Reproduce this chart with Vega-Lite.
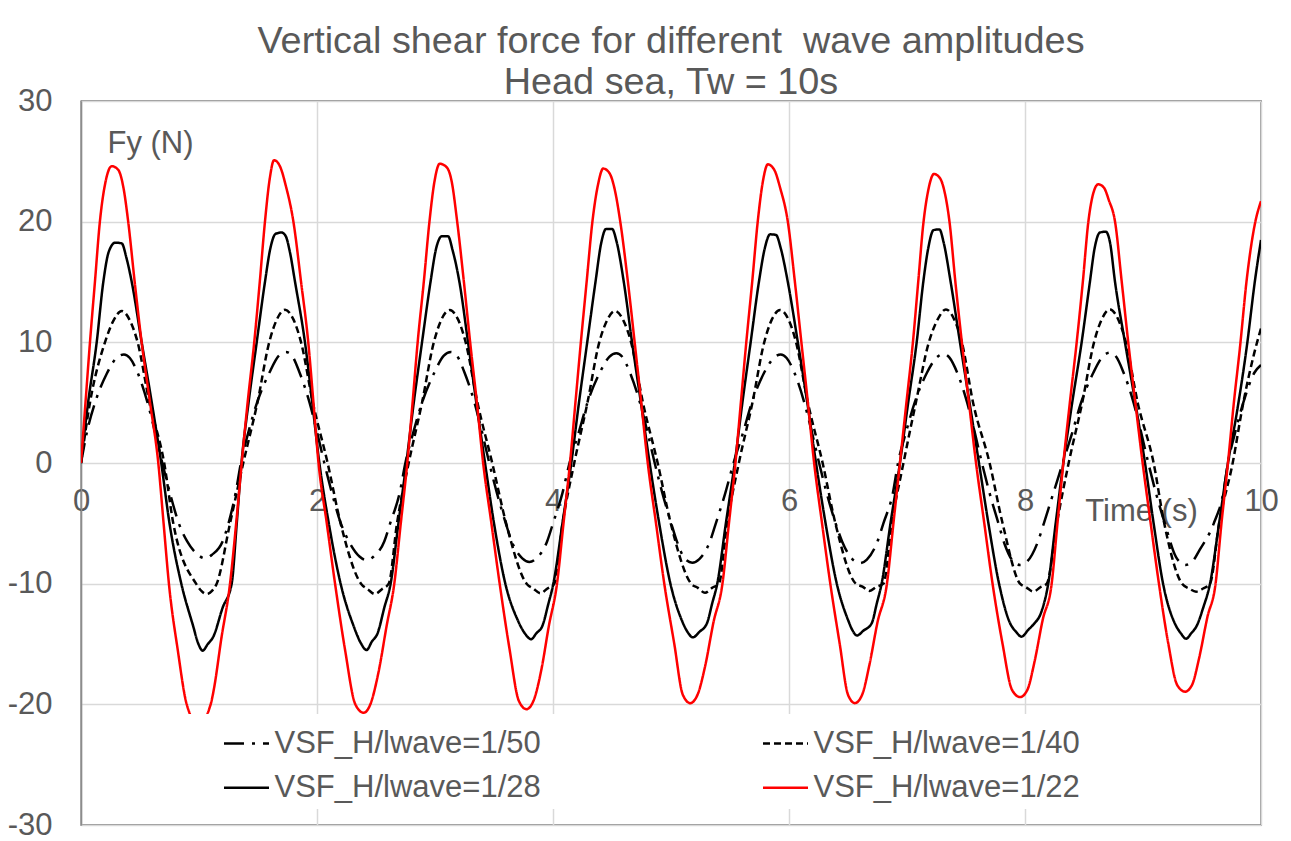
{
  "$schema": "https://vega.github.io/schema/vega-lite/v6.json",
  "width": 1180,
  "height": 724,
  "autosize": {"type": "none"},
  "padding": {"left": 81, "top": 101, "right": 30, "bottom": 16},
  "background": "white",
  "config": {
    "font": "Liberation Sans",
    "view": {"stroke": "#262626", "strokeWidth": 1.3}
  },
  "title": {
    "text": ["Vertical shear force for different \u00a0wave amplitudes", "Head sea, Tw = 10s"],
    "anchor": "middle",
    "frame": "group",
    "font": "Liberation Sans",
    "fontSize": 37.8,
    "fontWeight": "normal",
    "color": "#595959",
    "lineHeight": 40.5,
    "baseline": "alphabetic",
    "offset": 0,
    "dy": 46.5
  },
  "data": {
    "values": [
      {"t":0,"fy":0,"s":"VSF_H/lwave=1/50"},{"t":0.048,"fy":2.46,"s":"VSF_H/lwave=1/50"},{"t":0.119,"fy":5,"s":"VSF_H/lwave=1/50"},{"t":0.218,"fy":7.4,"s":"VSF_H/lwave=1/50"},{"t":0.3,"fy":8.7,"s":"VSF_H/lwave=1/50"},{"t":0.364,"fy":9.0,"s":"VSF_H/lwave=1/50"},{"t":0.414,"fy":8.7,"s":"VSF_H/lwave=1/50"},{"t":0.479,"fy":7.5,"s":"VSF_H/lwave=1/50"},{"t":0.564,"fy":5,"s":"VSF_H/lwave=1/50"},{"t":0.629,"fy":2.5,"s":"VSF_H/lwave=1/50"},{"t":0.689,"fy":0,"s":"VSF_H/lwave=1/50"},{"t":0.754,"fy":-2.5,"s":"VSF_H/lwave=1/50"},{"t":0.829,"fy":-5,"s":"VSF_H/lwave=1/50"},
      {"t":0.9,"fy":-6.5,"s":"VSF_H/lwave=1/50"},{"t":0.99,"fy":-7.6,"s":"VSF_H/lwave=1/50"},{"t":1.05,"fy":-7.9,"s":"VSF_H/lwave=1/50"},{"t":1.11,"fy":-7.6,"s":"VSF_H/lwave=1/50"},{"t":1.2,"fy":-6.5,"s":"VSF_H/lwave=1/50"},{"t":1.25,"fy":-5,"s":"VSF_H/lwave=1/50"},{"t":1.31,"fy":-2.5,"s":"VSF_H/lwave=1/50"},{"t":1.355,"fy":0,"s":"VSF_H/lwave=1/50"},
      {"t":1.417,"fy":2.5,"s":"VSF_H/lwave=1/50"},{"t":1.492,"fy":5,"s":"VSF_H/lwave=1/50"},{"t":1.597,"fy":7.5,"s":"VSF_H/lwave=1/50"},{"t":1.677,"fy":8.9,"s":"VSF_H/lwave=1/50"},{"t":1.737,"fy":9.2,"s":"VSF_H/lwave=1/50"},{"t":1.787,"fy":8.9,"s":"VSF_H/lwave=1/50"},{"t":1.852,"fy":7.5,"s":"VSF_H/lwave=1/50"},{"t":1.937,"fy":5,"s":"VSF_H/lwave=1/50"},{"t":2.002,"fy":2.5,"s":"VSF_H/lwave=1/50"},{"t":2.062,"fy":0,"s":"VSF_H/lwave=1/50"},{"t":2.127,"fy":-2.5,"s":"VSF_H/lwave=1/50"},{"t":2.202,"fy":-5,"s":"VSF_H/lwave=1/50"},
      {"t":2.27,"fy":-6.5,"s":"VSF_H/lwave=1/50"},{"t":2.36,"fy":-7.75,"s":"VSF_H/lwave=1/50"},{"t":2.42,"fy":-8.05,"s":"VSF_H/lwave=1/50"},{"t":2.48,"fy":-7.75,"s":"VSF_H/lwave=1/50"},{"t":2.57,"fy":-6.5,"s":"VSF_H/lwave=1/50"},{"t":2.62,"fy":-5,"s":"VSF_H/lwave=1/50"},{"t":2.7,"fy":-2.5,"s":"VSF_H/lwave=1/50"},{"t":2.749,"fy":0,"s":"VSF_H/lwave=1/50"},
      {"t":2.815,"fy":2.5,"s":"VSF_H/lwave=1/50"},{"t":2.89,"fy":5,"s":"VSF_H/lwave=1/50"},{"t":2.995,"fy":7.5,"s":"VSF_H/lwave=1/50"},{"t":3.075,"fy":8.9,"s":"VSF_H/lwave=1/50"},{"t":3.135,"fy":9.2,"s":"VSF_H/lwave=1/50"},{"t":3.185,"fy":8.9,"s":"VSF_H/lwave=1/50"},{"t":3.25,"fy":7.5,"s":"VSF_H/lwave=1/50"},{"t":3.335,"fy":5,"s":"VSF_H/lwave=1/50"},{"t":3.4,"fy":2.5,"s":"VSF_H/lwave=1/50"},{"t":3.46,"fy":0,"s":"VSF_H/lwave=1/50"},{"t":3.525,"fy":-2.5,"s":"VSF_H/lwave=1/50"},{"t":3.6,"fy":-5,"s":"VSF_H/lwave=1/50"},
      {"t":3.65,"fy":-6.5,"s":"VSF_H/lwave=1/50"},{"t":3.74,"fy":-7.9,"s":"VSF_H/lwave=1/50"},{"t":3.8,"fy":-8.2,"s":"VSF_H/lwave=1/50"},{"t":3.86,"fy":-7.9,"s":"VSF_H/lwave=1/50"},{"t":3.95,"fy":-6.5,"s":"VSF_H/lwave=1/50"},{"t":4.0,"fy":-5,"s":"VSF_H/lwave=1/50"},{"t":4.08,"fy":-2.5,"s":"VSF_H/lwave=1/50"},{"t":4.14,"fy":0,"s":"VSF_H/lwave=1/50"},
      {"t":4.217,"fy":2.5,"s":"VSF_H/lwave=1/50"},{"t":4.292,"fy":5,"s":"VSF_H/lwave=1/50"},{"t":4.397,"fy":7.5,"s":"VSF_H/lwave=1/50"},{"t":4.477,"fy":8.8,"s":"VSF_H/lwave=1/50"},{"t":4.537,"fy":9.09,"s":"VSF_H/lwave=1/50"},{"t":4.587,"fy":8.8,"s":"VSF_H/lwave=1/50"},{"t":4.652,"fy":7.5,"s":"VSF_H/lwave=1/50"},{"t":4.737,"fy":5,"s":"VSF_H/lwave=1/50"},{"t":4.802,"fy":2.5,"s":"VSF_H/lwave=1/50"},{"t":4.862,"fy":0,"s":"VSF_H/lwave=1/50"},{"t":4.927,"fy":-2.5,"s":"VSF_H/lwave=1/50"},{"t":5.002,"fy":-5,"s":"VSF_H/lwave=1/50"},
      {"t":5.05,"fy":-6.5,"s":"VSF_H/lwave=1/50"},{"t":5.12,"fy":-7.96,"s":"VSF_H/lwave=1/50"},{"t":5.18,"fy":-8.26,"s":"VSF_H/lwave=1/50"},{"t":5.24,"fy":-7.96,"s":"VSF_H/lwave=1/50"},{"t":5.33,"fy":-6.5,"s":"VSF_H/lwave=1/50"},{"t":5.38,"fy":-5,"s":"VSF_H/lwave=1/50"},{"t":5.46,"fy":-2.5,"s":"VSF_H/lwave=1/50"},{"t":5.53,"fy":0,"s":"VSF_H/lwave=1/50"},
      {"t":5.61,"fy":2.5,"s":"VSF_H/lwave=1/50"},{"t":5.685,"fy":5,"s":"VSF_H/lwave=1/50"},{"t":5.79,"fy":7.5,"s":"VSF_H/lwave=1/50"},{"t":5.87,"fy":8.7,"s":"VSF_H/lwave=1/50"},{"t":5.93,"fy":9.0,"s":"VSF_H/lwave=1/50"},{"t":5.98,"fy":8.7,"s":"VSF_H/lwave=1/50"},{"t":6.045,"fy":7.5,"s":"VSF_H/lwave=1/50"},{"t":6.13,"fy":5,"s":"VSF_H/lwave=1/50"},{"t":6.195,"fy":2.5,"s":"VSF_H/lwave=1/50"},{"t":6.255,"fy":0,"s":"VSF_H/lwave=1/50"},{"t":6.32,"fy":-2.5,"s":"VSF_H/lwave=1/50"},{"t":6.395,"fy":-5,"s":"VSF_H/lwave=1/50"},
      {"t":6.45,"fy":-6.5,"s":"VSF_H/lwave=1/50"},{"t":6.54,"fy":-8.0,"s":"VSF_H/lwave=1/50"},{"t":6.6,"fy":-8.3,"s":"VSF_H/lwave=1/50"},{"t":6.66,"fy":-8.0,"s":"VSF_H/lwave=1/50"},{"t":6.75,"fy":-6.5,"s":"VSF_H/lwave=1/50"},{"t":6.8,"fy":-5,"s":"VSF_H/lwave=1/50"},{"t":6.88,"fy":-2.5,"s":"VSF_H/lwave=1/50"},{"t":6.924,"fy":0,"s":"VSF_H/lwave=1/50"},
      {"t":6.99,"fy":2.5,"s":"VSF_H/lwave=1/50"},{"t":7.065,"fy":5,"s":"VSF_H/lwave=1/50"},{"t":7.17,"fy":7.5,"s":"VSF_H/lwave=1/50"},{"t":7.25,"fy":8.73,"s":"VSF_H/lwave=1/50"},{"t":7.31,"fy":9.03,"s":"VSF_H/lwave=1/50"},{"t":7.36,"fy":8.73,"s":"VSF_H/lwave=1/50"},{"t":7.425,"fy":7.5,"s":"VSF_H/lwave=1/50"},{"t":7.51,"fy":5,"s":"VSF_H/lwave=1/50"},{"t":7.575,"fy":2.5,"s":"VSF_H/lwave=1/50"},{"t":7.635,"fy":0,"s":"VSF_H/lwave=1/50"},{"t":7.7,"fy":-2.5,"s":"VSF_H/lwave=1/50"},{"t":7.775,"fy":-5,"s":"VSF_H/lwave=1/50"},
      {"t":7.83,"fy":-6.8,"s":"VSF_H/lwave=1/50"},{"t":7.9,"fy":-8.15,"s":"VSF_H/lwave=1/50"},{"t":7.96,"fy":-8.45,"s":"VSF_H/lwave=1/50"},{"t":8.02,"fy":-8.15,"s":"VSF_H/lwave=1/50"},{"t":8.11,"fy":-6.5,"s":"VSF_H/lwave=1/50"},{"t":8.16,"fy":-5,"s":"VSF_H/lwave=1/50"},{"t":8.24,"fy":-2.5,"s":"VSF_H/lwave=1/50"},{"t":8.32,"fy":0,"s":"VSF_H/lwave=1/50"},
      {"t":8.4,"fy":2.5,"s":"VSF_H/lwave=1/50"},{"t":8.475,"fy":5,"s":"VSF_H/lwave=1/50"},{"t":8.58,"fy":7.5,"s":"VSF_H/lwave=1/50"},{"t":8.66,"fy":8.84,"s":"VSF_H/lwave=1/50"},{"t":8.72,"fy":9.14,"s":"VSF_H/lwave=1/50"},{"t":8.77,"fy":8.84,"s":"VSF_H/lwave=1/50"},{"t":8.835,"fy":7.5,"s":"VSF_H/lwave=1/50"},{"t":8.92,"fy":5,"s":"VSF_H/lwave=1/50"},{"t":8.985,"fy":2.5,"s":"VSF_H/lwave=1/50"},{"t":9.045,"fy":0,"s":"VSF_H/lwave=1/50"},{"t":9.11,"fy":-2.5,"s":"VSF_H/lwave=1/50"},{"t":9.185,"fy":-5,"s":"VSF_H/lwave=1/50"},
      {"t":9.28,"fy":-7.8,"s":"VSF_H/lwave=1/50"},{"t":9.36,"fy":-8.45,"s":"VSF_H/lwave=1/50"},{"t":9.42,"fy":-8.15,"s":"VSF_H/lwave=1/50"},{"t":9.48,"fy":-7.2,"s":"VSF_H/lwave=1/50"},{"t":9.6,"fy":-5,"s":"VSF_H/lwave=1/50"},{"t":9.68,"fy":-2.5,"s":"VSF_H/lwave=1/50"},{"t":9.72,"fy":0,"s":"VSF_H/lwave=1/50"},
      {"t":9.78,"fy":2.5,"s":"VSF_H/lwave=1/50"},{"t":9.85,"fy":5,"s":"VSF_H/lwave=1/50"},{"t":9.945,"fy":7.5,"s":"VSF_H/lwave=1/50"},{"t":10,"fy":8.12,"s":"VSF_H/lwave=1/50"},

      {"t":0,"fy":0,"s":"VSF_H/lwave=1/40"},{"t":0.076,"fy":5,"s":"VSF_H/lwave=1/40"},{"t":0.203,"fy":10,"s":"VSF_H/lwave=1/40"},{"t":0.275,"fy":11.8,"s":"VSF_H/lwave=1/40"},{"t":0.345,"fy":12.6,"s":"VSF_H/lwave=1/40"},{"t":0.415,"fy":11.8,"s":"VSF_H/lwave=1/40"},{"t":0.48,"fy":10,"s":"VSF_H/lwave=1/40"},{"t":0.58,"fy":5,"s":"VSF_H/lwave=1/40"},{"t":0.705,"fy":0,"s":"VSF_H/lwave=1/40"},
      {"t":0.782,"fy":-5,"s":"VSF_H/lwave=1/40"},{"t":0.975,"fy":-10,"s":"VSF_H/lwave=1/40"},{"t":1.02,"fy":-10.6,"s":"VSF_H/lwave=1/40"},{"t":1.065,"fy":-10.86,"s":"VSF_H/lwave=1/40"},{"t":1.11,"fy":-10.6,"s":"VSF_H/lwave=1/40"},{"t":1.15,"fy":-10,"s":"VSF_H/lwave=1/40"},{"t":1.263,"fy":-5,"s":"VSF_H/lwave=1/40"},{"t":1.375,"fy":0,"s":"VSF_H/lwave=1/40"},
      {"t":1.495,"fy":5,"s":"VSF_H/lwave=1/40"},{"t":1.595,"fy":10,"s":"VSF_H/lwave=1/40"},{"t":1.66,"fy":11.9,"s":"VSF_H/lwave=1/40"},{"t":1.73,"fy":12.7,"s":"VSF_H/lwave=1/40"},{"t":1.8,"fy":11.9,"s":"VSF_H/lwave=1/40"},{"t":1.865,"fy":10,"s":"VSF_H/lwave=1/40"},{"t":1.965,"fy":5,"s":"VSF_H/lwave=1/40"},{"t":2.09,"fy":0,"s":"VSF_H/lwave=1/40"},
      {"t":2.2,"fy":-5,"s":"VSF_H/lwave=1/40"},{"t":2.373,"fy":-10,"s":"VSF_H/lwave=1/40"},{"t":2.43,"fy":-10.46,"s":"VSF_H/lwave=1/40"},{"t":2.49,"fy":-10.86,"s":"VSF_H/lwave=1/40"},{"t":2.55,"fy":-10.46,"s":"VSF_H/lwave=1/40"},{"t":2.608,"fy":-10,"s":"VSF_H/lwave=1/40"},{"t":2.678,"fy":-5,"s":"VSF_H/lwave=1/40"},{"t":2.777,"fy":0,"s":"VSF_H/lwave=1/40"},
      {"t":2.89,"fy":5,"s":"VSF_H/lwave=1/40"},{"t":2.99,"fy":10,"s":"VSF_H/lwave=1/40"},{"t":3.055,"fy":11.9,"s":"VSF_H/lwave=1/40"},{"t":3.125,"fy":12.68,"s":"VSF_H/lwave=1/40"},{"t":3.195,"fy":11.9,"s":"VSF_H/lwave=1/40"},{"t":3.26,"fy":10,"s":"VSF_H/lwave=1/40"},{"t":3.36,"fy":5,"s":"VSF_H/lwave=1/40"},{"t":3.485,"fy":0,"s":"VSF_H/lwave=1/40"},
      {"t":3.603,"fy":-5,"s":"VSF_H/lwave=1/40"},{"t":3.776,"fy":-10,"s":"VSF_H/lwave=1/40"},{"t":3.833,"fy":-10.4,"s":"VSF_H/lwave=1/40"},{"t":3.893,"fy":-10.8,"s":"VSF_H/lwave=1/40"},{"t":3.953,"fy":-10.4,"s":"VSF_H/lwave=1/40"},{"t":4.011,"fy":-10,"s":"VSF_H/lwave=1/40"},{"t":4.081,"fy":-5,"s":"VSF_H/lwave=1/40"},{"t":4.18,"fy":0,"s":"VSF_H/lwave=1/40"},
      {"t":4.292,"fy":5,"s":"VSF_H/lwave=1/40"},{"t":4.392,"fy":10,"s":"VSF_H/lwave=1/40"},{"t":4.457,"fy":11.8,"s":"VSF_H/lwave=1/40"},{"t":4.527,"fy":12.6,"s":"VSF_H/lwave=1/40"},{"t":4.597,"fy":11.8,"s":"VSF_H/lwave=1/40"},{"t":4.662,"fy":10,"s":"VSF_H/lwave=1/40"},{"t":4.762,"fy":5,"s":"VSF_H/lwave=1/40"},{"t":4.887,"fy":0,"s":"VSF_H/lwave=1/40"},
      {"t":4.998,"fy":-5,"s":"VSF_H/lwave=1/40"},{"t":5.171,"fy":-10,"s":"VSF_H/lwave=1/40"},{"t":5.228,"fy":-10.35,"s":"VSF_H/lwave=1/40"},{"t":5.288,"fy":-10.75,"s":"VSF_H/lwave=1/40"},{"t":5.348,"fy":-10.35,"s":"VSF_H/lwave=1/40"},{"t":5.406,"fy":-10,"s":"VSF_H/lwave=1/40"},{"t":5.476,"fy":-5,"s":"VSF_H/lwave=1/40"},{"t":5.575,"fy":0,"s":"VSF_H/lwave=1/40"},
      {"t":5.69,"fy":5,"s":"VSF_H/lwave=1/40"},{"t":5.79,"fy":10,"s":"VSF_H/lwave=1/40"},{"t":5.855,"fy":11.9,"s":"VSF_H/lwave=1/40"},{"t":5.925,"fy":12.68,"s":"VSF_H/lwave=1/40"},{"t":5.995,"fy":11.9,"s":"VSF_H/lwave=1/40"},{"t":6.06,"fy":10,"s":"VSF_H/lwave=1/40"},{"t":6.16,"fy":5,"s":"VSF_H/lwave=1/40"},{"t":6.285,"fy":0,"s":"VSF_H/lwave=1/40"},
      {"t":6.393,"fy":-5,"s":"VSF_H/lwave=1/40"},{"t":6.566,"fy":-10,"s":"VSF_H/lwave=1/40"},{"t":6.623,"fy":-10.25,"s":"VSF_H/lwave=1/40"},{"t":6.683,"fy":-10.6,"s":"VSF_H/lwave=1/40"},{"t":6.743,"fy":-10.25,"s":"VSF_H/lwave=1/40"},{"t":6.801,"fy":-10,"s":"VSF_H/lwave=1/40"},{"t":6.871,"fy":-5,"s":"VSF_H/lwave=1/40"},{"t":6.97,"fy":0,"s":"VSF_H/lwave=1/40"},
      {"t":7.075,"fy":5,"s":"VSF_H/lwave=1/40"},{"t":7.185,"fy":10,"s":"VSF_H/lwave=1/40"},{"t":7.26,"fy":11.9,"s":"VSF_H/lwave=1/40"},{"t":7.33,"fy":12.73,"s":"VSF_H/lwave=1/40"},{"t":7.4,"fy":11.9,"s":"VSF_H/lwave=1/40"},{"t":7.465,"fy":10,"s":"VSF_H/lwave=1/40"},{"t":7.56,"fy":5,"s":"VSF_H/lwave=1/40"},{"t":7.7,"fy":0,"s":"VSF_H/lwave=1/40"},
      {"t":7.81,"fy":-5,"s":"VSF_H/lwave=1/40"},{"t":7.958,"fy":-10,"s":"VSF_H/lwave=1/40"},{"t":8.01,"fy":-10.3,"s":"VSF_H/lwave=1/40"},{"t":8.07,"fy":-10.66,"s":"VSF_H/lwave=1/40"},{"t":8.13,"fy":-10.3,"s":"VSF_H/lwave=1/40"},{"t":8.185,"fy":-10,"s":"VSF_H/lwave=1/40"},{"t":8.27,"fy":-5,"s":"VSF_H/lwave=1/40"},{"t":8.37,"fy":0,"s":"VSF_H/lwave=1/40"},
      {"t":8.485,"fy":5,"s":"VSF_H/lwave=1/40"},{"t":8.585,"fy":10,"s":"VSF_H/lwave=1/40"},{"t":8.65,"fy":11.9,"s":"VSF_H/lwave=1/40"},{"t":8.72,"fy":12.73,"s":"VSF_H/lwave=1/40"},{"t":8.79,"fy":11.9,"s":"VSF_H/lwave=1/40"},{"t":8.855,"fy":10,"s":"VSF_H/lwave=1/40"},{"t":8.955,"fy":5,"s":"VSF_H/lwave=1/40"},{"t":9.09,"fy":0,"s":"VSF_H/lwave=1/40"},
      {"t":9.18,"fy":-5,"s":"VSF_H/lwave=1/40"},{"t":9.33,"fy":-10,"s":"VSF_H/lwave=1/40"},{"t":9.39,"fy":-10.4,"s":"VSF_H/lwave=1/40"},{"t":9.45,"fy":-10.66,"s":"VSF_H/lwave=1/40"},{"t":9.51,"fy":-10.4,"s":"VSF_H/lwave=1/40"},{"t":9.568,"fy":-10,"s":"VSF_H/lwave=1/40"},{"t":9.645,"fy":-5,"s":"VSF_H/lwave=1/40"},{"t":9.76,"fy":0,"s":"VSF_H/lwave=1/40"},
      {"t":9.85,"fy":5,"s":"VSF_H/lwave=1/40"},{"t":9.94,"fy":9,"s":"VSF_H/lwave=1/40"},{"t":10,"fy":11.16,"s":"VSF_H/lwave=1/40"},

      {"t":0,"fy":0,"s":"VSF_H/lwave=1/28"},{"t":0.06,"fy":5,"s":"VSF_H/lwave=1/28"},{"t":0.133,"fy":10,"s":"VSF_H/lwave=1/28"},{"t":0.189,"fy":15,"s":"VSF_H/lwave=1/28"},{"t":0.235,"fy":17.5,"s":"VSF_H/lwave=1/28"},{"t":0.29,"fy":18.26,"s":"VSF_H/lwave=1/28"},{"t":0.345,"fy":18.2,"s":"VSF_H/lwave=1/28"},{"t":0.385,"fy":17,"s":"VSF_H/lwave=1/28"},{"t":0.43,"fy":15,"s":"VSF_H/lwave=1/28"},{"t":0.514,"fy":10,"s":"VSF_H/lwave=1/28"},{"t":0.6,"fy":5,"s":"VSF_H/lwave=1/28"},{"t":0.68,"fy":0,"s":"VSF_H/lwave=1/28"},
      {"t":0.75,"fy":-5,"s":"VSF_H/lwave=1/28"},{"t":0.85,"fy":-10,"s":"VSF_H/lwave=1/28"},{"t":0.95,"fy":-13.5,"s":"VSF_H/lwave=1/28"},{"t":0.995,"fy":-15,"s":"VSF_H/lwave=1/28"},{"t":1.031,"fy":-15.55,"s":"VSF_H/lwave=1/28"},{"t":1.075,"fy":-15,"s":"VSF_H/lwave=1/28"},{"t":1.121,"fy":-14.4,"s":"VSF_H/lwave=1/28"},{"t":1.2,"fy":-12,"s":"VSF_H/lwave=1/28"},{"t":1.277,"fy":-10,"s":"VSF_H/lwave=1/28"},{"t":1.32,"fy":-5,"s":"VSF_H/lwave=1/28"},{"t":1.36,"fy":0,"s":"VSF_H/lwave=1/28"},
      {"t":1.42,"fy":5,"s":"VSF_H/lwave=1/28"},{"t":1.489,"fy":10,"s":"VSF_H/lwave=1/28"},{"t":1.559,"fy":15,"s":"VSF_H/lwave=1/28"},{"t":1.605,"fy":17.8,"s":"VSF_H/lwave=1/28"},{"t":1.65,"fy":19.0,"s":"VSF_H/lwave=1/28"},{"t":1.7,"fy":19.1,"s":"VSF_H/lwave=1/28"},{"t":1.735,"fy":18.8,"s":"VSF_H/lwave=1/28"},{"t":1.77,"fy":17.5,"s":"VSF_H/lwave=1/28"},{"t":1.814,"fy":15,"s":"VSF_H/lwave=1/28"},{"t":1.898,"fy":10,"s":"VSF_H/lwave=1/28"},{"t":1.96,"fy":5,"s":"VSF_H/lwave=1/28"},{"t":2.02,"fy":0,"s":"VSF_H/lwave=1/28"},
      {"t":2.1,"fy":-5,"s":"VSF_H/lwave=1/28"},{"t":2.2,"fy":-10,"s":"VSF_H/lwave=1/28"},{"t":2.31,"fy":-13.5,"s":"VSF_H/lwave=1/28"},{"t":2.37,"fy":-14.9,"s":"VSF_H/lwave=1/28"},{"t":2.42,"fy":-15.5,"s":"VSF_H/lwave=1/28"},{"t":2.465,"fy":-14.8,"s":"VSF_H/lwave=1/28"},{"t":2.514,"fy":-14.1,"s":"VSF_H/lwave=1/28"},{"t":2.57,"fy":-12,"s":"VSF_H/lwave=1/28"},{"t":2.624,"fy":-10,"s":"VSF_H/lwave=1/28"},{"t":2.69,"fy":-5,"s":"VSF_H/lwave=1/28"},{"t":2.757,"fy":0,"s":"VSF_H/lwave=1/28"},
      {"t":2.82,"fy":5,"s":"VSF_H/lwave=1/28"},{"t":2.89,"fy":10,"s":"VSF_H/lwave=1/28"},{"t":2.962,"fy":15,"s":"VSF_H/lwave=1/28"},{"t":3.01,"fy":17.8,"s":"VSF_H/lwave=1/28"},{"t":3.06,"fy":18.8,"s":"VSF_H/lwave=1/28"},{"t":3.11,"fy":18.8,"s":"VSF_H/lwave=1/28"},{"t":3.15,"fy":17.6,"s":"VSF_H/lwave=1/28"},{"t":3.207,"fy":15,"s":"VSF_H/lwave=1/28"},{"t":3.28,"fy":10,"s":"VSF_H/lwave=1/28"},{"t":3.35,"fy":5,"s":"VSF_H/lwave=1/28"},{"t":3.424,"fy":0,"s":"VSF_H/lwave=1/28"},
      {"t":3.5,"fy":-5,"s":"VSF_H/lwave=1/28"},{"t":3.596,"fy":-10,"s":"VSF_H/lwave=1/28"},{"t":3.7,"fy":-13,"s":"VSF_H/lwave=1/28"},{"t":3.76,"fy":-14.1,"s":"VSF_H/lwave=1/28"},{"t":3.815,"fy":-14.6,"s":"VSF_H/lwave=1/28"},{"t":3.86,"fy":-14.1,"s":"VSF_H/lwave=1/28"},{"t":3.91,"fy":-13.5,"s":"VSF_H/lwave=1/28"},{"t":3.96,"fy":-11.7,"s":"VSF_H/lwave=1/28"},{"t":4.003,"fy":-10,"s":"VSF_H/lwave=1/28"},{"t":4.08,"fy":-5,"s":"VSF_H/lwave=1/28"},{"t":4.155,"fy":0,"s":"VSF_H/lwave=1/28"},
      {"t":4.22,"fy":5,"s":"VSF_H/lwave=1/28"},{"t":4.29,"fy":10,"s":"VSF_H/lwave=1/28"},{"t":4.36,"fy":15,"s":"VSF_H/lwave=1/28"},{"t":4.41,"fy":18.3,"s":"VSF_H/lwave=1/28"},{"t":4.45,"fy":19.4,"s":"VSF_H/lwave=1/28"},{"t":4.5,"fy":19.4,"s":"VSF_H/lwave=1/28"},{"t":4.54,"fy":18.3,"s":"VSF_H/lwave=1/28"},{"t":4.6,"fy":15,"s":"VSF_H/lwave=1/28"},{"t":4.67,"fy":10,"s":"VSF_H/lwave=1/28"},{"t":4.745,"fy":5,"s":"VSF_H/lwave=1/28"},{"t":4.819,"fy":0,"s":"VSF_H/lwave=1/28"},
      {"t":4.9,"fy":-5,"s":"VSF_H/lwave=1/28"},{"t":4.995,"fy":-10,"s":"VSF_H/lwave=1/28"},{"t":5.09,"fy":-13,"s":"VSF_H/lwave=1/28"},{"t":5.14,"fy":-14,"s":"VSF_H/lwave=1/28"},{"t":5.185,"fy":-14.45,"s":"VSF_H/lwave=1/28"},{"t":5.24,"fy":-14,"s":"VSF_H/lwave=1/28"},{"t":5.304,"fy":-13.3,"s":"VSF_H/lwave=1/28"},{"t":5.35,"fy":-11.6,"s":"VSF_H/lwave=1/28"},{"t":5.392,"fy":-10,"s":"VSF_H/lwave=1/28"},{"t":5.465,"fy":-5,"s":"VSF_H/lwave=1/28"},{"t":5.54,"fy":0,"s":"VSF_H/lwave=1/28"},
      {"t":5.605,"fy":5,"s":"VSF_H/lwave=1/28"},{"t":5.675,"fy":10,"s":"VSF_H/lwave=1/28"},{"t":5.745,"fy":15,"s":"VSF_H/lwave=1/28"},{"t":5.795,"fy":17.8,"s":"VSF_H/lwave=1/28"},{"t":5.84,"fy":18.95,"s":"VSF_H/lwave=1/28"},{"t":5.89,"fy":18.9,"s":"VSF_H/lwave=1/28"},{"t":5.93,"fy":17.8,"s":"VSF_H/lwave=1/28"},{"t":5.99,"fy":15,"s":"VSF_H/lwave=1/28"},{"t":6.075,"fy":10,"s":"VSF_H/lwave=1/28"},{"t":6.155,"fy":5,"s":"VSF_H/lwave=1/28"},{"t":6.229,"fy":0,"s":"VSF_H/lwave=1/28"},
      {"t":6.31,"fy":-5,"s":"VSF_H/lwave=1/28"},{"t":6.405,"fy":-10,"s":"VSF_H/lwave=1/28"},{"t":6.5,"fy":-13,"s":"VSF_H/lwave=1/28"},{"t":6.54,"fy":-13.9,"s":"VSF_H/lwave=1/28"},{"t":6.575,"fy":-14.3,"s":"VSF_H/lwave=1/28"},{"t":6.63,"fy":-13.9,"s":"VSF_H/lwave=1/28"},{"t":6.7,"fy":-13.3,"s":"VSF_H/lwave=1/28"},{"t":6.745,"fy":-11.6,"s":"VSF_H/lwave=1/28"},{"t":6.785,"fy":-10,"s":"VSF_H/lwave=1/28"},{"t":6.86,"fy":-5,"s":"VSF_H/lwave=1/28"},{"t":6.94,"fy":0,"s":"VSF_H/lwave=1/28"},
      {"t":7.01,"fy":5,"s":"VSF_H/lwave=1/28"},{"t":7.082,"fy":10,"s":"VSF_H/lwave=1/28"},{"t":7.138,"fy":15,"s":"VSF_H/lwave=1/28"},{"t":7.18,"fy":17.8,"s":"VSF_H/lwave=1/28"},{"t":7.225,"fy":19.3,"s":"VSF_H/lwave=1/28"},{"t":7.275,"fy":19.36,"s":"VSF_H/lwave=1/28"},{"t":7.31,"fy":18.3,"s":"VSF_H/lwave=1/28"},{"t":7.37,"fy":15,"s":"VSF_H/lwave=1/28"},{"t":7.449,"fy":10,"s":"VSF_H/lwave=1/28"},{"t":7.53,"fy":5,"s":"VSF_H/lwave=1/28"},{"t":7.61,"fy":0,"s":"VSF_H/lwave=1/28"},
      {"t":7.69,"fy":-5,"s":"VSF_H/lwave=1/28"},{"t":7.78,"fy":-10,"s":"VSF_H/lwave=1/28"},{"t":7.87,"fy":-13.2,"s":"VSF_H/lwave=1/28"},{"t":7.925,"fy":-14,"s":"VSF_H/lwave=1/28"},{"t":7.97,"fy":-14.39,"s":"VSF_H/lwave=1/28"},{"t":8.03,"fy":-13.8,"s":"VSF_H/lwave=1/28"},{"t":8.07,"fy":-13.4,"s":"VSF_H/lwave=1/28"},{"t":8.14,"fy":-12.3,"s":"VSF_H/lwave=1/28"},{"t":8.197,"fy":-10,"s":"VSF_H/lwave=1/28"},{"t":8.26,"fy":-5,"s":"VSF_H/lwave=1/28"},{"t":8.325,"fy":0,"s":"VSF_H/lwave=1/28"},
      {"t":8.4,"fy":5,"s":"VSF_H/lwave=1/28"},{"t":8.48,"fy":10,"s":"VSF_H/lwave=1/28"},{"t":8.55,"fy":15,"s":"VSF_H/lwave=1/28"},{"t":8.59,"fy":17.8,"s":"VSF_H/lwave=1/28"},{"t":8.635,"fy":19.1,"s":"VSF_H/lwave=1/28"},{"t":8.685,"fy":19.17,"s":"VSF_H/lwave=1/28"},{"t":8.72,"fy":18.3,"s":"VSF_H/lwave=1/28"},{"t":8.763,"fy":15,"s":"VSF_H/lwave=1/28"},{"t":8.847,"fy":10,"s":"VSF_H/lwave=1/28"},{"t":8.935,"fy":5,"s":"VSF_H/lwave=1/28"},{"t":9.017,"fy":0,"s":"VSF_H/lwave=1/28"},
      {"t":9.09,"fy":-5,"s":"VSF_H/lwave=1/28"},{"t":9.17,"fy":-10,"s":"VSF_H/lwave=1/28"},{"t":9.27,"fy":-13.3,"s":"VSF_H/lwave=1/28"},{"t":9.32,"fy":-14.1,"s":"VSF_H/lwave=1/28"},{"t":9.365,"fy":-14.56,"s":"VSF_H/lwave=1/28"},{"t":9.41,"fy":-14.1,"s":"VSF_H/lwave=1/28"},{"t":9.455,"fy":-13.5,"s":"VSF_H/lwave=1/28"},{"t":9.51,"fy":-12,"s":"VSF_H/lwave=1/28"},{"t":9.568,"fy":-10,"s":"VSF_H/lwave=1/28"},{"t":9.645,"fy":-5,"s":"VSF_H/lwave=1/28"},{"t":9.72,"fy":0,"s":"VSF_H/lwave=1/28"},
      {"t":9.794,"fy":4.1,"s":"VSF_H/lwave=1/28"},{"t":9.879,"fy":9.6,"s":"VSF_H/lwave=1/28"},{"t":9.95,"fy":15.2,"s":"VSF_H/lwave=1/28"},{"t":10,"fy":18.48,"s":"VSF_H/lwave=1/28"},

      {"t":0,"fy":0,"s":"VSF_H/lwave=1/22"},{"t":0.038,"fy":5,"s":"VSF_H/lwave=1/22"},{"t":0.076,"fy":10,"s":"VSF_H/lwave=1/22"},{"t":0.118,"fy":15,"s":"VSF_H/lwave=1/22"},{"t":0.16,"fy":20,"s":"VSF_H/lwave=1/22"},{"t":0.21,"fy":23.4,"s":"VSF_H/lwave=1/22"},{"t":0.26,"fy":24.6,"s":"VSF_H/lwave=1/22"},{"t":0.315,"fy":24.3,"s":"VSF_H/lwave=1/22"},{"t":0.36,"fy":22.8,"s":"VSF_H/lwave=1/22"},{"t":0.4,"fy":20,"s":"VSF_H/lwave=1/22"},{"t":0.455,"fy":15,"s":"VSF_H/lwave=1/22"},{"t":0.514,"fy":10,"s":"VSF_H/lwave=1/22"},{"t":0.585,"fy":5,"s":"VSF_H/lwave=1/22"},{"t":0.655,"fy":0,"s":"VSF_H/lwave=1/22"},
      {"t":0.7,"fy":-5,"s":"VSF_H/lwave=1/22"},{"t":0.745,"fy":-10,"s":"VSF_H/lwave=1/22"},{"t":0.82,"fy":-15.5,"s":"VSF_H/lwave=1/22"},{"t":0.896,"fy":-20,"s":"VSF_H/lwave=1/22"},{"t":0.995,"fy":-21.7,"s":"VSF_H/lwave=1/22"},{"t":1.099,"fy":-20,"s":"VSF_H/lwave=1/22"},{"t":1.125,"fy":-18.8,"s":"VSF_H/lwave=1/22"},{"t":1.19,"fy":-14.5,"s":"VSF_H/lwave=1/22"},{"t":1.263,"fy":-10,"s":"VSF_H/lwave=1/22"},{"t":1.315,"fy":-5,"s":"VSF_H/lwave=1/22"},{"t":1.362,"fy":0,"s":"VSF_H/lwave=1/22"},
      {"t":1.412,"fy":5,"s":"VSF_H/lwave=1/22"},{"t":1.468,"fy":10,"s":"VSF_H/lwave=1/22"},{"t":1.515,"fy":15,"s":"VSF_H/lwave=1/22"},{"t":1.559,"fy":20,"s":"VSF_H/lwave=1/22"},{"t":1.6,"fy":23.6,"s":"VSF_H/lwave=1/22"},{"t":1.636,"fy":25.1,"s":"VSF_H/lwave=1/22"},{"t":1.69,"fy":24.5,"s":"VSF_H/lwave=1/22"},{"t":1.735,"fy":23,"s":"VSF_H/lwave=1/22"},{"t":1.8,"fy":20,"s":"VSF_H/lwave=1/22"},{"t":1.865,"fy":15,"s":"VSF_H/lwave=1/22"},{"t":1.926,"fy":10,"s":"VSF_H/lwave=1/22"},{"t":1.97,"fy":5,"s":"VSF_H/lwave=1/22"},{"t":2.013,"fy":0,"s":"VSF_H/lwave=1/22"},
      {"t":2.083,"fy":-5,"s":"VSF_H/lwave=1/22"},{"t":2.153,"fy":-10,"s":"VSF_H/lwave=1/22"},{"t":2.238,"fy":-15.5,"s":"VSF_H/lwave=1/22"},{"t":2.325,"fy":-20,"s":"VSF_H/lwave=1/22"},{"t":2.395,"fy":-20.7,"s":"VSF_H/lwave=1/22"},{"t":2.452,"fy":-20,"s":"VSF_H/lwave=1/22"},{"t":2.52,"fy":-17.4,"s":"VSF_H/lwave=1/22"},{"t":2.59,"fy":-13.5,"s":"VSF_H/lwave=1/22"},{"t":2.655,"fy":-10,"s":"VSF_H/lwave=1/22"},{"t":2.71,"fy":-5,"s":"VSF_H/lwave=1/22"},{"t":2.765,"fy":0,"s":"VSF_H/lwave=1/22"},
      {"t":2.81,"fy":5,"s":"VSF_H/lwave=1/22"},{"t":2.853,"fy":10,"s":"VSF_H/lwave=1/22"},{"t":2.905,"fy":15,"s":"VSF_H/lwave=1/22"},{"t":2.953,"fy":20,"s":"VSF_H/lwave=1/22"},{"t":2.995,"fy":23.3,"s":"VSF_H/lwave=1/22"},{"t":3.04,"fy":24.8,"s":"VSF_H/lwave=1/22"},{"t":3.1,"fy":24.5,"s":"VSF_H/lwave=1/22"},{"t":3.14,"fy":23.4,"s":"VSF_H/lwave=1/22"},{"t":3.188,"fy":20,"s":"VSF_H/lwave=1/22"},{"t":3.245,"fy":15,"s":"VSF_H/lwave=1/22"},{"t":3.298,"fy":10,"s":"VSF_H/lwave=1/22"},{"t":3.355,"fy":5,"s":"VSF_H/lwave=1/22"},{"t":3.408,"fy":0,"s":"VSF_H/lwave=1/22"},
      {"t":3.478,"fy":-5,"s":"VSF_H/lwave=1/22"},{"t":3.548,"fy":-10,"s":"VSF_H/lwave=1/22"},{"t":3.633,"fy":-15.5,"s":"VSF_H/lwave=1/22"},{"t":3.71,"fy":-19.7,"s":"VSF_H/lwave=1/22"},{"t":3.775,"fy":-20.4,"s":"VSF_H/lwave=1/22"},{"t":3.835,"fy":-19.7,"s":"VSF_H/lwave=1/22"},{"t":3.9,"fy":-17.2,"s":"VSF_H/lwave=1/22"},{"t":3.965,"fy":-13.5,"s":"VSF_H/lwave=1/22"},{"t":4.034,"fy":-10,"s":"VSF_H/lwave=1/22"},{"t":4.089,"fy":-5,"s":"VSF_H/lwave=1/22"},{"t":4.144,"fy":0,"s":"VSF_H/lwave=1/22"},
      {"t":4.19,"fy":5,"s":"VSF_H/lwave=1/22"},{"t":4.236,"fy":10,"s":"VSF_H/lwave=1/22"},{"t":4.285,"fy":15,"s":"VSF_H/lwave=1/22"},{"t":4.334,"fy":20,"s":"VSF_H/lwave=1/22"},{"t":4.38,"fy":23,"s":"VSF_H/lwave=1/22"},{"t":4.426,"fy":24.4,"s":"VSF_H/lwave=1/22"},{"t":4.48,"fy":24.0,"s":"VSF_H/lwave=1/22"},{"t":4.52,"fy":22.8,"s":"VSF_H/lwave=1/22"},{"t":4.57,"fy":20,"s":"VSF_H/lwave=1/22"},{"t":4.635,"fy":15,"s":"VSF_H/lwave=1/22"},{"t":4.692,"fy":10,"s":"VSF_H/lwave=1/22"},{"t":4.748,"fy":5,"s":"VSF_H/lwave=1/22"},{"t":4.803,"fy":0,"s":"VSF_H/lwave=1/22"},
      {"t":4.873,"fy":-5,"s":"VSF_H/lwave=1/22"},{"t":4.943,"fy":-10,"s":"VSF_H/lwave=1/22"},{"t":5.028,"fy":-15,"s":"VSF_H/lwave=1/22"},{"t":5.1,"fy":-19.2,"s":"VSF_H/lwave=1/22"},{"t":5.163,"fy":-19.9,"s":"VSF_H/lwave=1/22"},{"t":5.225,"fy":-19.2,"s":"VSF_H/lwave=1/22"},{"t":5.29,"fy":-16.8,"s":"VSF_H/lwave=1/22"},{"t":5.36,"fy":-13.2,"s":"VSF_H/lwave=1/22"},{"t":5.436,"fy":-10,"s":"VSF_H/lwave=1/22"},{"t":5.491,"fy":-5,"s":"VSF_H/lwave=1/22"},{"t":5.546,"fy":0,"s":"VSF_H/lwave=1/22"},
      {"t":5.592,"fy":5,"s":"VSF_H/lwave=1/22"},{"t":5.638,"fy":10,"s":"VSF_H/lwave=1/22"},{"t":5.688,"fy":15,"s":"VSF_H/lwave=1/22"},{"t":5.735,"fy":20,"s":"VSF_H/lwave=1/22"},{"t":5.778,"fy":23.3,"s":"VSF_H/lwave=1/22"},{"t":5.821,"fy":24.75,"s":"VSF_H/lwave=1/22"},{"t":5.875,"fy":24.3,"s":"VSF_H/lwave=1/22"},{"t":5.925,"fy":22.8,"s":"VSF_H/lwave=1/22"},{"t":5.99,"fy":20,"s":"VSF_H/lwave=1/22"},{"t":6.05,"fy":15,"s":"VSF_H/lwave=1/22"},{"t":6.105,"fy":10,"s":"VSF_H/lwave=1/22"},{"t":6.16,"fy":5,"s":"VSF_H/lwave=1/22"},{"t":6.213,"fy":0,"s":"VSF_H/lwave=1/22"},
      {"t":6.28,"fy":-5,"s":"VSF_H/lwave=1/22"},{"t":6.35,"fy":-10,"s":"VSF_H/lwave=1/22"},{"t":6.43,"fy":-15,"s":"VSF_H/lwave=1/22"},{"t":6.5,"fy":-19.2,"s":"VSF_H/lwave=1/22"},{"t":6.558,"fy":-19.9,"s":"VSF_H/lwave=1/22"},{"t":6.62,"fy":-19.2,"s":"VSF_H/lwave=1/22"},{"t":6.68,"fy":-16.8,"s":"VSF_H/lwave=1/22"},{"t":6.75,"fy":-13.2,"s":"VSF_H/lwave=1/22"},{"t":6.83,"fy":-10,"s":"VSF_H/lwave=1/22"},{"t":6.885,"fy":-5,"s":"VSF_H/lwave=1/22"},{"t":6.94,"fy":0,"s":"VSF_H/lwave=1/22"},
      {"t":6.995,"fy":5,"s":"VSF_H/lwave=1/22"},{"t":7.05,"fy":10,"s":"VSF_H/lwave=1/22"},{"t":7.095,"fy":15,"s":"VSF_H/lwave=1/22"},{"t":7.138,"fy":19.8,"s":"VSF_H/lwave=1/22"},{"t":7.18,"fy":22.6,"s":"VSF_H/lwave=1/22"},{"t":7.229,"fy":23.95,"s":"VSF_H/lwave=1/22"},{"t":7.28,"fy":23.6,"s":"VSF_H/lwave=1/22"},{"t":7.32,"fy":22.4,"s":"VSF_H/lwave=1/22"},{"t":7.36,"fy":20,"s":"VSF_H/lwave=1/22"},{"t":7.41,"fy":15,"s":"VSF_H/lwave=1/22"},{"t":7.465,"fy":10,"s":"VSF_H/lwave=1/22"},{"t":7.525,"fy":5,"s":"VSF_H/lwave=1/22"},{"t":7.585,"fy":0,"s":"VSF_H/lwave=1/22"},
      {"t":7.655,"fy":-5,"s":"VSF_H/lwave=1/22"},{"t":7.725,"fy":-10,"s":"VSF_H/lwave=1/22"},{"t":7.81,"fy":-15,"s":"VSF_H/lwave=1/22"},{"t":7.89,"fy":-18.8,"s":"VSF_H/lwave=1/22"},{"t":7.958,"fy":-19.4,"s":"VSF_H/lwave=1/22"},{"t":8.02,"fy":-18.8,"s":"VSF_H/lwave=1/22"},{"t":8.08,"fy":-16.5,"s":"VSF_H/lwave=1/22"},{"t":8.15,"fy":-13,"s":"VSF_H/lwave=1/22"},{"t":8.226,"fy":-10,"s":"VSF_H/lwave=1/22"},{"t":8.275,"fy":-5,"s":"VSF_H/lwave=1/22"},{"t":8.325,"fy":0,"s":"VSF_H/lwave=1/22"},
      {"t":8.38,"fy":5,"s":"VSF_H/lwave=1/22"},{"t":8.438,"fy":10,"s":"VSF_H/lwave=1/22"},{"t":8.49,"fy":15,"s":"VSF_H/lwave=1/22"},{"t":8.537,"fy":20,"s":"VSF_H/lwave=1/22"},{"t":8.58,"fy":22.4,"s":"VSF_H/lwave=1/22"},{"t":8.621,"fy":23.1,"s":"VSF_H/lwave=1/22"},{"t":8.67,"fy":22.8,"s":"VSF_H/lwave=1/22"},{"t":8.71,"fy":21.8,"s":"VSF_H/lwave=1/22"},{"t":8.763,"fy":20,"s":"VSF_H/lwave=1/22"},{"t":8.82,"fy":15,"s":"VSF_H/lwave=1/22"},{"t":8.875,"fy":10,"s":"VSF_H/lwave=1/22"},{"t":8.935,"fy":5,"s":"VSF_H/lwave=1/22"},{"t":8.997,"fy":0,"s":"VSF_H/lwave=1/22"},
      {"t":9.065,"fy":-5,"s":"VSF_H/lwave=1/22"},{"t":9.135,"fy":-10,"s":"VSF_H/lwave=1/22"},{"t":9.215,"fy":-15,"s":"VSF_H/lwave=1/22"},{"t":9.29,"fy":-18.4,"s":"VSF_H/lwave=1/22"},{"t":9.356,"fy":-18.95,"s":"VSF_H/lwave=1/22"},{"t":9.415,"fy":-18.4,"s":"VSF_H/lwave=1/22"},{"t":9.475,"fy":-16.2,"s":"VSF_H/lwave=1/22"},{"t":9.545,"fy":-12.8,"s":"VSF_H/lwave=1/22"},{"t":9.615,"fy":-10,"s":"VSF_H/lwave=1/22"},{"t":9.665,"fy":-5,"s":"VSF_H/lwave=1/22"},{"t":9.72,"fy":0,"s":"VSF_H/lwave=1/22"},
      {"t":9.77,"fy":5,"s":"VSF_H/lwave=1/22"},{"t":9.822,"fy":9.6,"s":"VSF_H/lwave=1/22"},{"t":9.879,"fy":15.2,"s":"VSF_H/lwave=1/22"},{"t":9.95,"fy":19.9,"s":"VSF_H/lwave=1/22"},{"t":10,"fy":21.7,"s":"VSF_H/lwave=1/22"}
    ]
  },
  "mark": {"type": "line", "interpolate": "monotone", "strokeWidth": 2.5, "strokeCap": "butt", "clip": true},
  "encoding": {
    "x": {
      "field": "t",
      "type": "quantitative",
      "scale": {"domain": [0, 10], "nice": false, "zero": false},
      "axis": {
        "values": [0, 2, 4, 6, 8, 10],
        "offset": -362,
        "domain": false,
        "ticks": false,
        "tickSize": 0,
        "grid": true,
        "gridColor": "#d9d9d9",
        "gridWidth": 1.5,
        "labelFlush": false,
        "labelFont": "Liberation Sans",
        "labelFontSize": 31,
        "labelColor": "#595959",
        "labelBaseline": "alphabetic",
        "labelPadding": 47,
        "title": "Time (s)",
        "titleFont": "Liberation Sans",
        "titleFontSize": 31,
        "titleFontWeight": "normal",
        "titleColor": "#595959",
        "titleX": 1060,
        "titleY": 57,
        "titleAlign": "center",
        "titleBaseline": "alphabetic"
      }
    },
    "y": {
      "field": "fy",
      "type": "quantitative",
      "scale": {"domain": [-30, 30], "nice": false, "zero": false},
      "axis": {
        "values": [-30, -20, -10, 0, 10, 20, 30],
        "labelExpr": "'' + datum.value",
        "domain": true,
        "domainColor": "#8c8c8c",
        "domainWidth": 1.5,
        "ticks": false,
        "tickSize": 0,
        "grid": true,
        "gridColor": "#d9d9d9",
        "gridWidth": 1.5,
        "labelFont": "Liberation Sans",
        "labelFontSize": 31,
        "labelColor": "#595959",
        "labelPadding": 29,
        "title": "Fy (N)",
        "titleFont": "Liberation Sans",
        "titleFontSize": 31,
        "titleFontWeight": "normal",
        "titleColor": "#595959",
        "titleAngle": 0,
        "titleX": 69,
        "titleY": 51,
        "titleAlign": "center",
        "titleBaseline": "alphabetic"
      }
    },
    "color": {
      "field": "s",
      "type": "nominal",
      "scale": {
        "domain": ["VSF_H/lwave=1/50", "VSF_H/lwave=1/40", "VSF_H/lwave=1/28", "VSF_H/lwave=1/22"],
        "range": ["#000000", "#000000", "#000000", "#ff0000"]
      },
      "legend": {
        "title": "\u00a0",
        "titleOrient": "left",
        "titlePadding": 34,
        "titleFontSize": 31,
        "orient": "none",
        "direction": "horizontal",
        "legendX": 102,
        "legendY": 613,
        "columns": 2,
        "columnPadding": 216,
        "rowPadding": 5.2,
        "padding": 5.5,
        "fillColor": "white",
        "symbolType": "stroke",
        "symbolSize": 2025,
        "symbolStrokeWidth": 2.5,
        "labelFont": "Liberation Sans",
        "labelFontSize": 31,
        "labelColor": "#595959",
        "labelOffset": 4,
        "labelLimit": 0
      }
    },
    "strokeDash": {
      "field": "s",
      "type": "nominal",
      "scale": {
        "domain": ["VSF_H/lwave=1/50", "VSF_H/lwave=1/40", "VSF_H/lwave=1/28", "VSF_H/lwave=1/22"],
        "range": [[20, 8, 3, 8], [7, 4], [1, 0], [1, 0]]
      },
      "legend": {
        "title": "\u00a0",
        "titleOrient": "left",
        "titlePadding": 34,
        "titleFontSize": 31,
        "orient": "none",
        "direction": "horizontal",
        "legendX": 102,
        "legendY": 613,
        "columns": 2,
        "columnPadding": 216,
        "rowPadding": 5.2,
        "padding": 5.5,
        "fillColor": "white",
        "symbolType": "stroke",
        "symbolSize": 2025,
        "symbolStrokeWidth": 2.5,
        "labelFont": "Liberation Sans",
        "labelFontSize": 31,
        "labelColor": "#595959",
        "labelOffset": 4,
        "labelLimit": 0
      }
    }
  }
}
